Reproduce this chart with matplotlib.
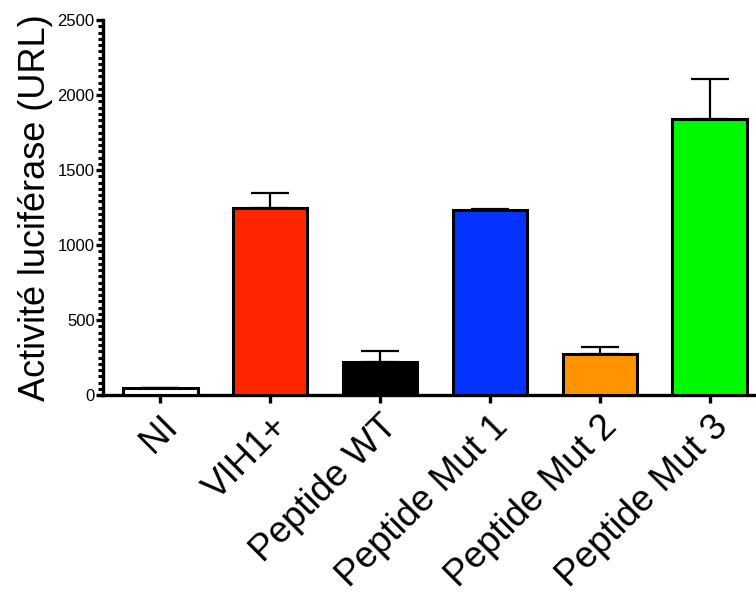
import matplotlib
matplotlib.use("Agg")
import matplotlib.pyplot as plt
from matplotlib.ticker import MultipleLocator, AutoMinorLocator

categories = ["NI", "VIH1+", "Peptide WT", "Peptide Mut 1", "Peptide Mut 2", "Peptide Mut 3"]
values = [47, 1250, 218, 1232, 272, 1843]
errors = [0, 95, 78, 8, 50, 265]
colors = ["#FFFFFF", "#FF2600", "#000000", "#0433FF", "#FF9300", "#00F900"]

plt.rcParams['font.family'] = ['Liberation Sans', 'DejaVu Sans']

fig = plt.figure(figsize=(7.56, 6.02), dpi=100)
ax = fig.add_axes([103/756, 1-395/602, (756-103)/756, (395-20)/602])

x = list(range(len(categories)))
ax.bar(x, values, width=0.68, color=colors, edgecolor="black", linewidth=2.2, zorder=3)
ax.errorbar(x, values, yerr=[[0]*len(errors), errors], fmt="none", ecolor="black",
            elinewidth=1.6, capsize=13.5, capthick=1.6, zorder=2)

ax.set_xlim(-0.52, 5.42)
ax.set_ylim(0, 2500)
ax.yaxis.set_major_locator(MultipleLocator(500))
ax.yaxis.set_minor_locator(AutoMinorLocator(12))

for s in ["top", "right"]:
    ax.spines[s].set_visible(False)
for s in ["left", "bottom"]:
    ax.spines[s].set_linewidth(2.4)

ax.tick_params(axis="y", which="major", direction="out", length=5, width=2.4, labelsize=12, pad=1)
ax.tick_params(axis="y", which="minor", direction="out", length=3.5, width=2.2)
ax.tick_params(axis="x", which="major", direction="out", length=6, width=2.4, pad=4)

ax.set_xticks(x)
ax.set_xticklabels(categories, rotation=45, ha="right", rotation_mode="anchor", fontsize=26.5)
ax.set_ylabel("Activité luciférase (URL)", fontsize=26, labelpad=3)

fig.savefig("out.png", dpi=100)
